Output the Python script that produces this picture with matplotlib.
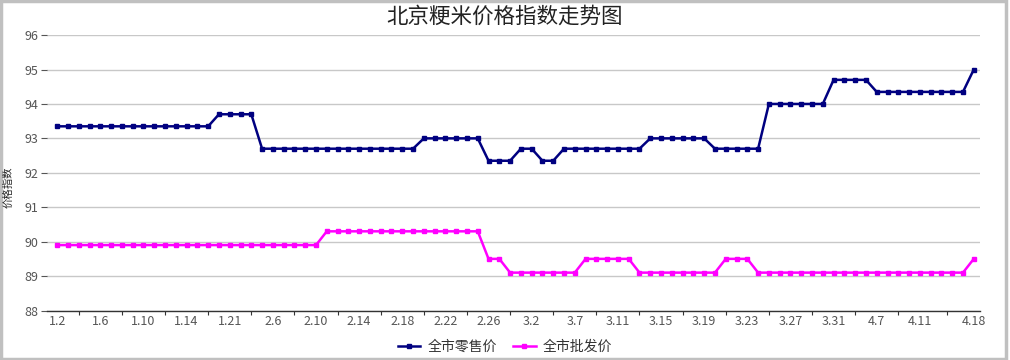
import matplotlib
matplotlib.use("Agg")
import matplotlib.pyplot as plt
from matplotlib.patches import Rectangle

plt.rcParams['font.family'] = ['Noto Sans CJK SC', 'DejaVu Sans']

# retail index, one value per trading day
retail = ([93.35] * 15 + [93.7] * 4 + [92.7] * 15 + [93.0] * 6 +
          [92.35] * 3 + [92.7] * 2 + [92.35] * 2 + [92.7] * 8 +
          [93.0] * 6 + [92.7] * 5 + [94.0] * 6 + [94.7] * 4 +
          [94.35] * 9 + [95.0])
# wholesale index
wholesale = ([89.9] * 25 + [90.3] * 15 + [89.5] * 2 + [89.1] * 7 +
             [89.5] * 5 + [89.1] * 8 + [89.5] * 3 + [89.1] * 20 + [89.5])

tick_labels = ["1.2", "1.6", "1.10", "1.14", "1.21", "2.6", "2.10", "2.14",
               "2.18", "2.22", "2.26", "3.2", "3.7", "3.11", "3.15", "3.19",
               "3.23", "3.27", "3.31", "4.7", "4.11", "4.18"]
tick_pos = list(range(0, 84, 4)) + [85]

x = list(range(len(retail)))

fig = plt.figure(figsize=(10.1, 3.6), dpi=100)
ax = fig.add_axes([0.0465, 0.1375, 0.9235, 0.765])

ax.plot(x, retail, color="#000080", lw=1.8, marker="s", ms=3.5,
        mec="#000080", mfc="#000080", label="全市零售价")
ax.plot(x, wholesale, color="#ff00ff", lw=1.8, marker="s", ms=3.5,
        mec="#ff00ff", mfc="#ff00ff", label="全市批发价")

ax.set_ylim(88, 96)
ax.set_yticks(range(88, 97))
ax.set_xlim(-0.95, 85.55)
ax.set_xticks(tick_pos)
ax.set_xticklabels(tick_labels)
# small tick marks between the labels
mids = [(tick_pos[i] + tick_pos[i + 1]) / 2 for i in range(len(tick_pos) - 1)]
ax.set_xticks(mids, minor=True)
ax.tick_params(axis="x", which="major", length=0, pad=3, labelsize=9,
               labelcolor="#555555")
ax.tick_params(axis="x", which="minor", length=3, width=0.8, color="#333333")
ax.tick_params(axis="y", length=4, width=0.8, color="#555555", pad=2,
               labelsize=9, labelcolor="#555555")

ax.grid(axis="y", color="#c8c8c8", lw=1)
ax.set_axisbelow(True)
for s in ["top", "right", "left"]:
    ax.spines[s].set_visible(False)
ax.spines["bottom"].set_color("#333333")
ax.spines["bottom"].set_linewidth(1)

fig.text(0.0085, 0.48, "价格指数", rotation=90, ha="center", va="center",
         fontsize=7.5, color="#222222")

fig.text(0.5, 0.953, "北京粳米价格指数走势图", ha="center", va="center",
         fontsize=15.5, color="#222222")

fig.legend(loc="center", bbox_to_anchor=(0.5, 0.036), ncol=2, frameon=False,
           fontsize=10, handlelength=1.6, handletextpad=0.5, columnspacing=1.2,
           labelcolor="#333333")

# grey outer frame
fig.patches.append(Rectangle((0.001, 0.003), 0.995, 0.994, transform=fig.transFigure,
                             fill=False, ec="#c0c0c0", lw=2.5))

fig.savefig("out.png", dpi=100)
